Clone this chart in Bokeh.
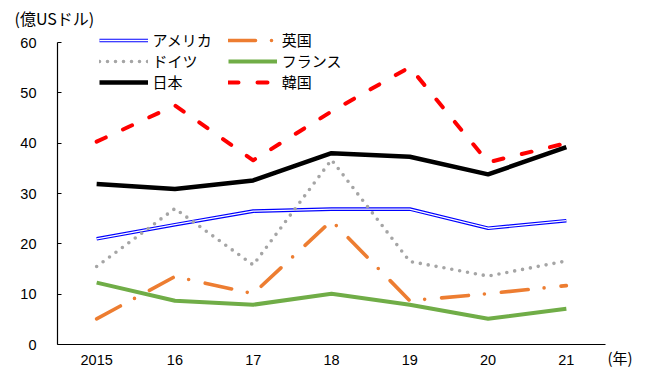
from bokeh.plotting import figure
from bokeh.models import FactorRange, Range1d, FixedTicker, Legend, LegendItem, Label
from bokeh.embed import file_html
from bokeh.resources import INLINE

# Values in 億USドル per year
years = ["2015", "16", "17", "18", "19", "20", "21"]
usa = [21.0, 23.8, 26.5, 26.9, 26.9, 23.1, 24.6]
uk = [5.1, 13.5, 10.1, 24.6, 8.7, 10.1, 11.7]
germany = [15.5, 27.0, 15.8, 36.7, 16.5, 13.6, 16.6]
france = [12.3, 8.7, 7.9, 10.1, 7.9, 5.1, 7.1]
japan = [31.9, 30.9, 32.6, 38.0, 37.3, 33.8, 39.2]
korea = [40.3, 47.5, 36.6, 46.3, 55.1, 36.2, 40.0]

y_ticks = [0, 10, 20, 30, 40, 50, 60]
y_min, y_max = 0, 60

JP_FONT = "Noto Sans CJK JP"
NUM_FONT = "Liberation Sans"

# page geometry (pixels): the axes box sits inside a frame that fills the page,
# so the legend and unit captions around it are not clipped
W, H = 652, 371
AX_L, AX_R, AX_T, AX_B = 57, 605, 42, 344
side = W - AX_R                     # equal free space left and right of the axes box
frame_left = AX_L - side
n = len(years)
slot = (AX_R - AX_L) / n
pad_pct = 2 * (side / slot) / n
px_per_unit = (AX_B - AX_T) / (y_max - y_min)
y_lo = y_min - (H - AX_B) / px_per_unit
y_hi = y_max + AX_T / px_per_unit


def data_x(px):
    # category axis position (0 = left edge of first year) for a page x pixel
    return (px - AX_L) / slot


def data_y(py):
    return y_min + (AX_B - py) / px_per_unit


p = figure(
    width=W, height=H,
    x_range=FactorRange(*years, range_padding=pad_pct, range_padding_units="percent"),
    y_range=Range1d(y_lo, y_hi),
    output_backend="svg", toolbar_location=None,
    min_border_left=frame_left, min_border_right=0,
    min_border_top=0, min_border_bottom=0,
)
p.grid.visible = False
p.outline_line_color = None
p.background_fill_color = "white"
p.border_fill_color = "white"

# axes pinned to the value/category origin and limited to the data box
p.yaxis.fixed_location = 0
p.yaxis.bounds = (y_min, y_max)
p.yaxis.ticker = FixedTicker(ticks=y_ticks)
p.yaxis.major_tick_in = 4
p.yaxis.major_tick_out = 0
p.yaxis.major_tick_line_color = "black"
p.yaxis.minor_tick_line_color = None
p.yaxis.major_label_standoff = 21

p.xaxis.fixed_location = y_min
p.xaxis.bounds = (0, n)
p.xaxis.major_tick_line_color = None
p.xaxis.major_tick_in = 0
p.xaxis.major_tick_out = 0
p.xaxis.minor_tick_line_color = None
p.xaxis.major_label_standoff = 10

for ax in (p.xaxis, p.yaxis):
    ax.axis_line_color = "black"
    ax.axis_line_width = 1.2
    ax.major_label_text_font = NUM_FONT
    ax.major_label_text_font_size = "14.5px"
    ax.major_label_text_color = "black"

# series
r_usa = p.line(years, usa, line_color="#0000FF", line_width=3.6, line_join="round")
r_usa_in = p.line(years, usa, line_color="white", line_width=1.3, line_join="round")
r_uk = p.line(years, uk, line_color="#ED7D31", line_width=3.6, line_dash="27 16 0 17",
              line_cap="round", line_join="round")
r_de = p.line(years, germany, line_color="#A5A5A5", line_width=3.6, line_dash="0 8",
              line_cap="round", line_join="round")
r_fr = p.line(years, france, line_color="#70AD47", line_width=4, line_join="round")
r_jp = p.line(years, japan, line_color="black", line_width=4.5, line_join="round")
r_kr = p.line(years, korea, line_color="#FF0000", line_width=4, line_dash="10 19",
              line_cap="round", line_join="round")


def make_legend(items, loc):
    return Legend(
        items=items, location=loc, orientation="vertical",
        padding=0, margin=0, spacing=0,
        glyph_width=49, glyph_height=20, label_height=20,
        label_standoff=5,
        label_text_font=JP_FONT, label_text_font_size="15px",
        label_text_color="black",
        border_line_color=None, background_fill_alpha=0,
    )


legend_bottom = H - 92
leg_left = make_legend([
    LegendItem(label="アメリカ", renderers=[r_usa, r_usa_in]),
    LegendItem(label="ドイツ", renderers=[r_de]),
    LegendItem(label="日本", renderers=[r_jp]),
], (98.5 - frame_left, legend_bottom))
leg_right = make_legend([
    LegendItem(label="英国", renderers=[r_uk]),
    LegendItem(label="フランス", renderers=[r_fr]),
    LegendItem(label="韓国", renderers=[r_kr]),
], (227.7 - frame_left, legend_bottom))
p.add_layout(leg_left)
p.add_layout(leg_right)

# unit captions
p.add_layout(Label(x=data_x(14), y=data_y(17),
                   text="(億USドル)", text_font=JP_FONT, text_font_size="16px",
                   text_baseline="middle", text_color="black"))
p.add_layout(Label(x=data_x(607), y=data_y(357),
                   text="(年)", text_font=JP_FONT, text_font_size="15px",
                   text_baseline="middle", text_color="black"))

open("out.html", "w").write(file_html(p, INLINE))
